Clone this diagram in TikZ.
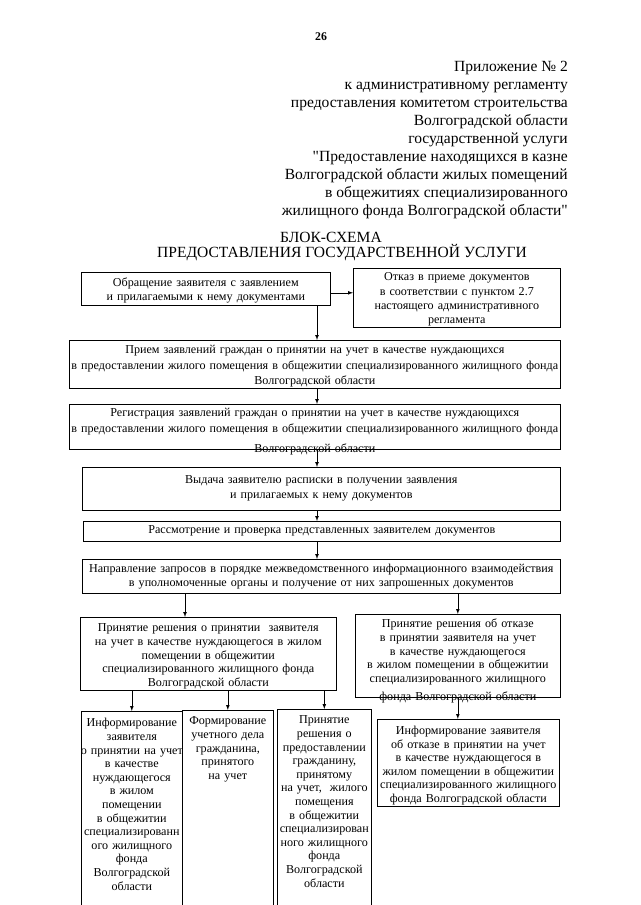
\documentclass[tikz,border=0pt]{standalone}
\usepackage{fontspec}
\setmainfont{Liberation Serif}[Ligatures=TeXOff]
\newlength{\pix}
\setlength{\pix}{0.0328125cm}

\begin{document}
\begin{tikzpicture}[x=0.0328125cm, y=-0.0328125cm]
\tikzset{
  arrow/.style={
    >=latex
  },
  line/.style={
    draw,
    ->,
    line width=0.6pt
  },
  block/.style={
    draw,
    line width=0.6pt,
    anchor=north west,
    align=center,
    inner xsep=-3pt,
    inner ysep=0pt,
    font=\fontsize{11.3}{#1}\selectfont
  },
  block/.default=13,
  narrow/.style={
    block=12.7,
    text depth=300\pix
  },
  header/.style={
    font=\fontsize{14.5}{16.8}\selectfont,
    inner sep=0pt
  }
}

\useasboundingbox (0,0) rectangle (640,905);
\clip (0,0) rectangle (640,905);

% Header
\node (page) [inner sep=0pt, font=\fontsize{11}{13}\selectfont\bfseries] at (321,37) {26};
\node (annex) [header, anchor=north east, align=right] at (568,61) {Приложение № 2\\
к административному регламенту\\
предоставления комитетом строительства\\
Волгоградской области\\
государственной услуги\\
"Предоставление находящихся в казне\\
Волгоградской области жилых помещений\\
в общежитиях специализированного\\
жилищного фонда Волгоградской области"};
\node (title) [header] at (331,237) {БЛОК-СХЕМА};
\node (subtitle) [header] at (342,253) {ПРЕДОСТАВЛЕНИЯ ГОСУДАРСТВЕННОЙ УСЛУГИ};

% Appeal
\node (appeal) [block, text width=249\pix+6pt, text height=14\pix, text depth=19\pix] at (81,272) {Обращение заявителя с заявлением\\
и прилагаемыми к нему документами};
\node (refuse) [block=13.3, text width=207\pix+6pt, text height=12.5\pix, text depth=46.5\pix] at (353,268) {Отказ в приеме документов\\
в соответствии с пунктом 2.7\\
настоящего административного\\
регламента};

% Reception
\node (accept) [block=14.4, text width=491\pix+6pt, text height=13.5\pix, text depth=34.5\pix] at (69,340) {Прием заявлений граждан о принятии на учет в качестве нуждающихся\\
в предоставлении жилого помещения в общежитии специализированного жилищного фонда\\
Волгоградской области};
\node (register) [block=14.6, text height=12.5\pix, text depth=32.5\pix, text width=491\pix+6pt] at (69,404) {Регистрация заявлений граждан о принятии на учет в качестве нуждающихся\\
в предоставлении жилого помещения в общежитии специализированного жилищного фонда\\[4pt]
Волгоградской области};
\node (receipt) [block=14, text width=478\pix+6pt, text height=16\pix, text depth=27\pix] at (82,467) {Выдача заявителю расписки в получении заявления\\
и прилагаемых к нему документов};
\node (check) [block, text width=477\pix+6pt, text height=12.5\pix, text depth=7.5\pix] at (83,521) {Рассмотрение и проверка представленных заявителем документов};
\node (request) [block, text width=478\pix+6pt, text height=13.5\pix, text depth=20.5\pix] at (82,559) {Направление запросов в порядке межведомственного информационного взаимодействия\\
в уполномоченные органы и получение от них запрошенных документов};

% Decision
\node (yes) [block=12.8, text width=256\pix+6pt, text height=14.5\pix, text depth=58.5\pix] at (80,617) {Принятие решения о принятии~ заявителя\\
на учет в качестве нуждающегося в жилом\\
помещении в общежитии\\
специализированного жилищного фонда\\
Волгоградской области};
\node (no) [block=12.8, text width=205\pix+6pt, text height=13.5\pix, text depth=69.5\pix] at (355,614) {Принятие решения об отказе\\
в принятии заявителя на учет\\
в качестве нуждающегося\\
в жилом помещении в общежитии\\
специализированного жилищного\\[4pt]
фонда Волгоградской области};

% Outcome
\node (yesinfo) [narrow, text width=101\pix+6pt, text height=15.5\pix] at (81,711) {Информирование\\
заявителя\\
о принятии на учет\\
в качестве\\
нуждающегося\\
в жилом\\
помещении\\
в общежитии\\
специализированн\\
ого жилищного\\
фонда\\
Волгоградской\\
области};
\node (yesfile) [narrow, text width=91\pix+6pt, text height=14.5\pix] at (182,710) {Формирование\\
учетного дела\\
гражданина,\\
принятого\\
на учет};
\node (yesroom) [narrow, text width=94\pix+6pt, text height=14.5\pix] at (277,709) {Принятие\\
решения о\\
предоставлении\\
гражданину,\\
принятому\\
на учет,~ жилого\\
помещения\\
в общежитии\\
специализирован\\
ного жилищного\\
фонда\\
Волгоградской\\
области};
\node (noinfo) [block=12.6, text width=182\pix+6pt, text height=15.5\pix, text depth=71.5\pix] at (377,719) {Информирование заявителя\\
об отказе в принятии на учет\\
в качестве нуждающегося в\\
жилом помещении в общежитии\\
специализированного жилищного\\
фонда Волгоградской области};

% Arrows
\coordinate (spine) at (317,0);
\coordinate (yesin) at (185,0);
\coordinate (appealout) at ([yshift=-4\pix]appeal.east);
\draw[line, arrow] (appealout) -- (appealout -| refuse.west);
\draw[line, arrow] (spine |- appeal.south) -- (spine |- accept.north);
\draw[line, arrow] (spine |- accept.south) -- (spine |- register.north);
\draw[line, arrow] (spine |- register.south) -- (spine |- receipt.north);
\draw[line, arrow] (spine |- receipt.south) -- (spine |- check.north);
\draw[line, arrow] (spine |- check.south) -- (spine |- request.north);
\draw[line, arrow] (yesin |- request.south) -- (yesin |- yes.north);
\draw[line, arrow] (no.north |- request.south) -- (no.north);
\draw[line, arrow] (yes.south -| yesinfo.north) -- (yesinfo.north);
\draw[line, arrow] (yes.south -| yesfile.north) -- (yesfile.north);
\draw[line, arrow] (yes.south -| yesroom.north) -- (yesroom.north);
\draw[line, arrow] (no.south) -- (no.south |- noinfo.north);

\end{tikzpicture}
\end{document}
